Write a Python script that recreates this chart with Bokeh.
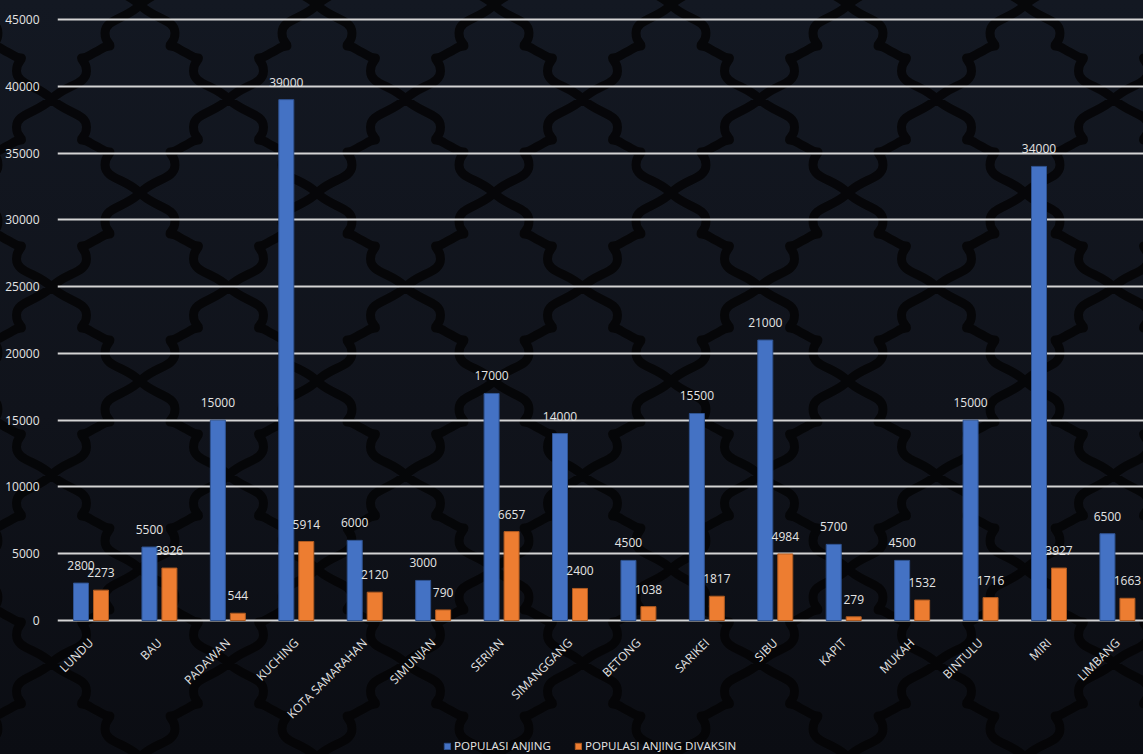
import math
import base64
from bokeh.plotting import figure
from bokeh.models import (ColumnDataSource, Range1d, FixedTicker, LabelSet,
                          Legend, LegendItem)
from bokeh.core.properties import value
from bokeh.transform import dodge
from bokeh.embed import file_html
from bokeh.resources import INLINE

categories = ["LUNDU", "BAU", "PADAWAN", "KUCHING", "KOTA SAMARAHAN", "SIMUNJAN",
              "SERIAN", "SIMANGGANG", "BETONG", "SARIKEI", "SIBU", "KAPIT",
              "MUKAH", "BINTULU", "MIRI", "LIMBANG"]
populasi_anjing = [2800, 5500, 15000, 39000, 6000, 3000, 17000, 14000, 4500,
                   15500, 21000, 5700, 4500, 15000, 34000, 6500]
populasi_divaksin = [2273, 3926, 544, 5914, 2120, 790, 6657, 2400, 1038,
                     1817, 4984, 279, 1532, 1716, 3927, 1663]
y_ticks = [0, 5000, 10000, 15000, 20000, 25000, 30000, 35000, 40000, 45000]
series_names = ["POPULASI ANJING", "POPULASI ANJING DIVAKSIN"]

BG = "#10131b"
TXT = "#e4e4e4"
FONT = "Open Sans"

# ---------------- decorative page background (lattice pattern) -------------
W, H = 88.5, 94.0          # half periods of the lattice (px)
A = 29.0


def _mirror(pt):
    return (W - pt[0], -H - pt[1])


def _edge():
    T = (0.0, -H)
    M = (W / 2, -H / 2)
    p1 = (A + 6, -H + 28)           # widest point of the pointed dome
    s = (A + 1, -H / 2 - 6)         # start of the small step
    segs = [("M", [T]),
            ("C", [(0.5 * A, -H + 0.5 * A), (A + 6, -H + 14), p1]),
            ("C", [(A + 6, -H + 38), (A + 1, -H / 2 - 10), s]),
            ("C", [(s[0] + 7, s[1]), (M[0] - 5, M[1] - 2), M]),
            ("C", [_mirror((M[0] - 5, M[1] - 2)), _mirror((s[0] + 7, s[1])),
                   _mirror(s)]),
            ("C", [_mirror((A + 1, -H / 2 - 10)), _mirror((A + 6, -H + 38)),
                   _mirror(p1)]),
            ("C", [_mirror((A + 6, -H + 14)), _mirror((0.5 * A, -H + 0.5 * A)),
                   _mirror(T)])]
    return segs


def _path(tf):
    out = []
    for cmd, ps in _edge():
        out.append(cmd + " " + " ".join("%.2f,%.2f" % tf(x, y) for x, y in ps))
    return " ".join(out)


paths = []
for dx in (-2 * W, 0, 2 * W):
    for dy in (-2 * H, 0, 2 * H):
        tfs = [lambda x, y: (x + dx, y + H + dy),
               lambda x, y: (2 * W - x + dx, y + H + dy),
               lambda x, y: (x + dx, H - y + dy),
               lambda x, y: (2 * W - x + dx, H - y + dy)]
        for tf in tfs:
            paths.append(_path(tf))
svg = ('<svg xmlns="http://www.w3.org/2000/svg" width="%g" height="%g" '
       'viewBox="0 0 %g %g"><path d="%s" fill="none" stroke="#030405" '
       'stroke-opacity="0.85" stroke-width="9" stroke-linejoin="round" '
       'stroke-linecap="round"/></svg>'
       % (2 * W, 2 * H, 2 * W, 2 * H, " ".join(paths)))
svg_b64 = base64.b64encode(svg.encode()).decode()
page_css = ("<style>html{background-color:%s;"
            "background-image:url(data:image/svg+xml;base64,%s),"
            "linear-gradient(to bottom,#131822 0%%,#10131b 55%%,#0b0d13 100%%);"
            "background-size:%gpx %gpx,100%% 100%%;"
            "background-repeat:repeat,no-repeat;"
            "background-position:%gpx %gpx,0 0;}"
            "body{background:transparent;}</style>"
            % (BG, svg_b64, 2 * W, 2 * H, 140, 5))

# ---------------- chart ------------------------------------------------------
idx = list(range(len(categories)))
src = ColumnDataSource(dict(
    x=idx, cat=categories,
    a=populasi_anjing, b=populasi_divaksin,
    a_txt=[str(v) for v in populasi_anjing],
    b_txt=[str(v) for v in populasi_divaksin],
))

px_per_unit = 601.0 / 45000.0
y_top = 45000 + 8 / px_per_unit
y_bot = y_top - 743 / px_per_unit       # frame reaches the bottom of the figure

p = figure(width=1143, height=754, output_backend="svg", toolbar_location=None,
           x_range=Range1d(-0.4896, 15.381), y_range=Range1d(y_bot, y_top),
           min_border_left=57, min_border_right=0, min_border_top=11,
           min_border_bottom=0)
p.background_fill_alpha = 0
p.border_fill_alpha = 0
p.outline_line_color = None

off = 0.146
bw = 0.2192
r1 = p.vbar(x=dodge("x", -off, range=p.x_range), top="a", width=bw, source=src,
            fill_color="#4472c4", line_color="#2f528f", line_width=1)
r2 = p.vbar(x=dodge("x", off, range=p.x_range), top="b", width=bw, source=src,
            fill_color="#ed7d31", line_color="#ae5a21", line_width=1)

for col, txt, o in (("a", "a_txt", -off), ("b", "b_txt", off)):
    ls = LabelSet(x=dodge("x", o, range=p.x_range), y=col, text=txt, source=src,
                  text_align="center", text_baseline="bottom", y_offset=13,
                  text_color=TXT, text_font_size="12px", text_font=value(FONT))
    p.add_layout(ls)

# axes
p.xgrid.grid_line_color = None
p.ygrid.grid_line_color = "#d4d4d4"
p.ygrid.grid_line_width = 2
p.yaxis.ticker = FixedTicker(ticks=y_ticks)
p.yaxis.axis_line_color = None
p.yaxis.major_tick_line_color = None
p.yaxis.minor_tick_line_color = None
p.yaxis.major_label_standoff = 12
p.yaxis.major_label_text_color = TXT
p.yaxis.major_label_text_font = FONT
p.yaxis.major_label_text_font_size = "12px"

p.xaxis.fixed_location = -10 / px_per_unit
p.xaxis.ticker = FixedTicker(ticks=idx)
p.xaxis.major_label_overrides = {i: c for i, c in zip(idx, categories)}
p.xaxis.major_label_orientation = math.pi / 4
p.xaxis.axis_line_color = None
p.xaxis.major_tick_line_color = None
p.xaxis.minor_tick_line_color = None
p.xaxis.major_label_standoff = 4
p.xaxis.major_label_text_color = TXT
p.xaxis.major_label_text_font = FONT
p.xaxis.major_label_text_font_size = "12px"

legend = Legend(items=[LegendItem(label=series_names[0], renderers=[r1]),
                       LegendItem(label=series_names[1], renderers=[r2])],
                orientation="horizontal", location=(386, 1),
                background_fill_alpha=0, border_line_color=None,
                padding=0, margin=0, spacing=23,
                glyph_width=8, glyph_height=8, label_height=10,
                label_standoff=3, label_text_color=TXT,
                label_text_font=FONT, label_text_font_size="11.6px")
p.add_layout(legend, "center")

html = file_html(p, INLINE)
html = html.replace("<head>", "<head>" + page_css, 1)
open("out.html", "w").write(html)
